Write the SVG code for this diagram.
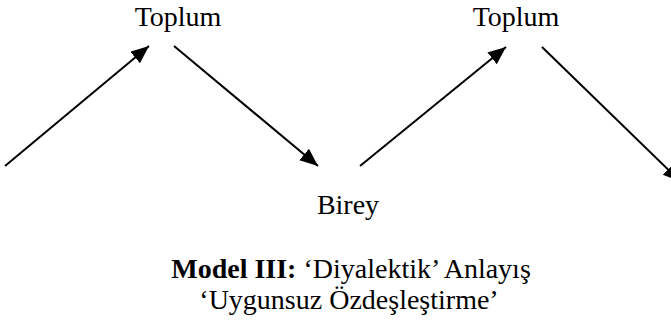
<svg xmlns="http://www.w3.org/2000/svg" width="671" height="322" viewBox="0 0 671 322">
<defs>
<style>
text{font-family:"Liberation Serif","Times New Roman",serif;font-size:28px;fill:#000;text-anchor:middle}
.c{stroke:#000;stroke-width:2;fill:none;marker-end:url(#ah)}
</style>
<marker id="ah" markerUnits="userSpaceOnUse" markerWidth="20" markerHeight="16" refX="18" refY="7.5" orient="auto">
<path d="M0,0 L18,7.5 L0,15 Z" fill="#000"/>
</marker>
</defs>
<rect width="671" height="322" fill="#fff"/>
<g id="connectors">
<line class="c" x1="5" y1="166" x2="149" y2="46"/>
<line class="c" x1="174" y1="46" x2="318" y2="166"/>
<line class="c" x1="360" y1="166" x2="506" y2="47"/>
<line class="c" x1="542" y1="47" x2="681" y2="182"/>
</g>
<g id="toplum1"><text x="178" y="26">Toplum</text></g>
<g id="toplum2"><text x="516" y="26">Toplum</text></g>
<g id="birey"><text x="348" y="214">Birey</text></g>
<g id="caption">
<text x="351" y="278"><tspan font-weight="bold">Model III:</tspan> ‘Diyalektik’ Anlayış</text>
<text x="349" y="309">‘Uygunsuz Özdeşleştirme’</text>
</g>
</svg>
